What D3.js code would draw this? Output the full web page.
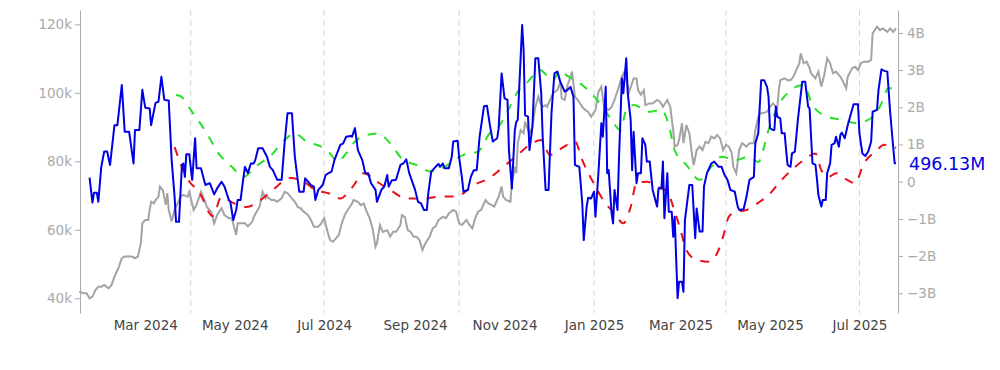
<!DOCTYPE html>
<html>
<body style="margin:0">
    <style>
        body {
            font: 13.5px "DejaVu Sans", Verdana, sans-serif;
            background: #fff;
        }
    </style>
    <div class="container"></div>

    <script src="https://d3js.org/d3.v7.min.js"></script>

    <script>

// BTC price (USD), grey line, left axis
var price = [
  ["2024-01-16",41900],["2024-01-19",41500],["2024-01-21",41500],["2024-01-23",40000],["2024-01-25",40500],
  ["2024-01-27",42400],["2024-01-29",43400],["2024-01-31",43400],["2024-02-02",43900],["2024-02-05",42900],
  ["2024-02-07",43900],["2024-02-09",46300],["2024-02-12",49200],["2024-02-14",51700],["2024-02-16",52200],
  ["2024-02-18",52200],["2024-02-21",52200],["2024-02-23",51700],["2024-02-25",52200],["2024-02-27",56100],
  ["2024-02-28",61900],["2024-03-01",62900],["2024-03-03",62900],["2024-03-04",65800],["2024-03-05",68200],
  ["2024-03-07",67700],["2024-03-08",68700],["2024-03-10",69700],["2024-03-11",72600],["2024-03-13",71600],
  ["2024-03-15",67300],["2024-03-16",70700],["2024-03-17",65800],["2024-03-19",62400],["2024-03-21",65800],
  ["2024-03-23",67700],["2024-03-25",69700],["2024-03-27",70200],["2024-03-30",69700],["2024-03-31",71100],
  ["2024-04-03",65800],["2024-04-05",67300],["2024-04-08",71100],["2024-04-10",69200],["2024-04-12",66700],
  ["2024-04-15",65300],["2024-04-17",61900],["2024-04-19",64300],["2024-04-22",66300],["2024-04-24",64300],
  ["2024-04-27",63400],["2024-04-29",63400],["2024-05-02",58500],["2024-05-03",61900],["2024-05-06",61900],
  ["2024-05-08",61900],["2024-05-10",61000],["2024-05-13",62400],["2024-05-14",63800],["2024-05-16",65300],
  ["2024-05-18",66800],["2024-05-20",71100],["2024-05-22",69200],["2024-05-23",69700],["2024-05-26",68700],
  ["2024-05-28",68700],["2024-05-30",68200],["2024-06-02",69200],["2024-06-04",71100],["2024-06-06",70700],
  ["2024-06-08",69700],["2024-06-11",68200],["2024-06-13",66700],["2024-06-15",66300],["2024-06-17",65300],
  ["2024-06-20",64300],["2024-06-22",62900],["2024-06-24",60900],["2024-06-27",60900],["2024-06-29",61900],
  ["2024-07-01",63400],["2024-07-03",59900],["2024-07-05",57000],["2024-07-07",56500],["2024-07-09",57500],
  ["2024-07-11",58500],["2024-07-13",61900],["2024-07-15",64300],["2024-07-17",65800],["2024-07-20",67700],
  ["2024-07-21",68700],["2024-07-24",68200],["2024-07-26",67200],["2024-07-28",67700],["2024-07-30",65300],
  ["2024-08-01",63400],["2024-08-03",60400],["2024-08-05",55100],["2024-08-06",56100],["2024-08-08",61400],
  ["2024-08-10",59400],["2024-08-13",59900],["2024-08-15",58000],["2024-08-17",59400],["2024-08-19",59400],
  ["2024-08-22",61400],["2024-08-23",64300],["2024-08-25",63800],["2024-08-27",59900],["2024-08-29",59400],
  ["2024-08-31",58000],["2024-09-02",58000],["2024-09-04",57000],["2024-09-06",54100],["2024-09-08",56100],
  ["2024-09-11",58000],["2024-09-13",60400],["2024-09-15",61000],["2024-09-17",62900],["2024-09-20",63800],
  ["2024-09-22",63400],["2024-09-24",64800],["2024-09-27",65800],["2024-09-29",65300],["2024-10-01",61900],
  ["2024-10-03",61400],["2024-10-06",62900],["2024-10-08",61400],["2024-10-10",60400],["2024-10-12",63400],
  ["2024-10-14",65300],["2024-10-16",65800],["2024-10-19",68700],["2024-10-21",67700],["2024-10-23",67300],
  ["2024-10-25",66800],["2024-10-28",69700],["2024-10-30",72600],["2024-10-31",69700],["2024-11-02",68700],
  ["2024-11-05",68200],["2024-11-06",73600],["2024-11-08",78400],["2024-11-09",76500],["2024-11-10",85300],
  ["2024-11-12",89100],["2024-11-14",88200],["2024-11-15",91600],["2024-11-17",89100],["2024-11-18",88000],
  ["2024-11-20",90100],["2024-11-22",95900],["2024-11-24",98900],["2024-11-25",97400],["2024-11-27",95900],
  ["2024-11-29",96400],["2024-11-30",95900],["2024-12-02",97900],["2024-12-04",99900],["2024-12-07",100800],
  ["2024-12-09",103200],["2024-12-10",98400],["2024-12-12",97900],["2024-12-14",102300],["2024-12-16",104700],
  ["2024-12-17",106200],["2024-12-19",98900],["2024-12-21",97900],["2024-12-24",95900],["2024-12-26",95000],
  ["2024-12-28",94500],["2024-12-30",93000],["2025-01-02",95000],["2025-01-04",100300],["2025-01-06",101800],
  ["2025-01-08",95500],["2025-01-11",95000],["2025-01-13",95900],["2025-01-15",97900],["2025-01-18",101800],
  ["2025-01-20",104700],["2025-01-21",105700],["2025-01-23",103700],["2025-01-25",100300],["2025-01-28",104200],
  ["2025-01-30",104200],["2025-01-31",100800],["2025-02-02",99400],["2025-02-04",100800],["2025-02-05",96400],
  ["2025-02-08",96900],["2025-02-10",96900],["2025-02-13",97900],["2025-02-15",97400],["2025-02-17",95900],
  ["2025-02-20",97900],["2025-02-22",95900],["2025-02-24",89100],["2025-02-25",84300],["2025-02-27",84800],
  ["2025-02-28",86200],["2025-03-02",91100],["2025-03-03",85300],["2025-03-05",90600],["2025-03-07",88200],
  ["2025-03-09",81400],["2025-03-10",78900],["2025-03-12",83300],["2025-03-14",84300],["2025-03-16",83300],
  ["2025-03-18",85700],["2025-03-20",85300],["2025-03-22",87200],["2025-03-24",86700],["2025-03-26",87700],
  ["2025-03-28",86700],["2025-03-30",83300],["2025-04-01",84800],["2025-04-03",84300],["2025-04-05",82300],
  ["2025-04-06",78400],["2025-04-08",76500],["2025-04-10",83300],["2025-04-12",85300],["2025-04-15",84300],
  ["2025-04-17",85300],["2025-04-20",85300],["2025-04-21",89100],["2025-04-23",93000],["2025-04-24",94000],
  ["2025-04-26",94000],["2025-04-29",94500],["2025-05-01",95900],["2025-05-03",96900],["2025-05-06",95500],
  ["2025-05-07",100800],["2025-05-08",103700],["2025-05-11",104200],["2025-05-13",103700],["2025-05-15",103700],
  ["2025-05-17",104700],["2025-05-19",106700],["2025-05-21",108600],["2025-05-22",111500],["2025-05-24",108600],
  ["2025-05-26",109100],["2025-05-28",107200],["2025-05-29",105700],["2025-06-01",104200],["2025-06-03",106200],
  ["2025-06-05",101800],["2025-06-07",105200],["2025-06-09",110100],["2025-06-11",108600],["2025-06-13",105700],
  ["2025-06-15",106200],["2025-06-18",104700],["2025-06-20",103200],["2025-06-22",101300],["2025-06-23",104700],
  ["2025-06-26",107200],["2025-06-28",107600],["2025-06-30",106700],["2025-07-02",108600],["2025-07-04",109100],
  ["2025-07-07",109100],["2025-07-09",109600],["2025-07-10",117400],["2025-07-13",119300],["2025-07-15",118300],
  ["2025-07-17",118800],["2025-07-20",117800],["2025-07-22",118800],["2025-07-24",117800],["2025-07-26",118800]
];

// net flow (billions USD), blue line, right axis
var flow = [
  ["2024-01-23",0.11],["2024-01-25",-0.56],["2024-01-26",-0.30],["2024-01-28",-0.30],["2024-01-29",-0.54],
  ["2024-01-31",0.40],["2024-02-02",0.81],["2024-02-04",0.81],["2024-02-06",0.45],["2024-02-09",1.52],
  ["2024-02-11",1.52],["2024-02-14",2.60],["2024-02-16",1.34],["2024-02-19",1.34],["2024-02-22",0.49],
  ["2024-02-23",1.39],["2024-02-26",1.39],["2024-02-28",2.47],["2024-03-01",1.99],["2024-03-04",1.97],
  ["2024-03-05",1.52],["2024-03-08",2.12],["2024-03-10",2.15],["2024-03-12",2.82],["2024-03-14",2.20],
  ["2024-03-17",2.18],["2024-03-19",0.58],["2024-03-21",-0.40],["2024-03-22",-1.08],["2024-03-24",-1.08],
  ["2024-03-26",0.45],["2024-03-27",0.49],["2024-03-28",0.13],["2024-03-29",0.74],["2024-03-31",0.74],
  ["2024-04-02",0.05],["2024-04-04",1.17],["2024-04-05",0.36],["2024-04-08",0.36],["2024-04-11",-0.09],
  ["2024-04-14",-0.04],["2024-04-17",-0.34],["2024-04-19",-0.18],["2024-04-22",0.00],["2024-04-24",-0.13],
  ["2024-04-27",-0.49],["2024-04-28",-0.54],["2024-04-30",-1.03],["2024-05-02",-0.76],["2024-05-03",-0.49],
  ["2024-05-05",-0.49],["2024-05-07",0.13],["2024-05-08",0.40],["2024-05-10",0.23],["2024-05-12",0.49],
  ["2024-05-14",0.49],["2024-05-15",0.58],["2024-05-17",0.90],["2024-05-20",0.90],["2024-05-23",0.67],
  ["2024-05-25",0.40],["2024-05-27",0.31],["2024-05-30",0.05],["2024-06-02",0.05],["2024-06-04",1.03],
  ["2024-06-06",1.84],["2024-06-09",1.84],["2024-06-11",0.67],["2024-06-14",-0.27],["2024-06-17",-0.27],
  ["2024-06-18",0.09],["2024-06-20",0.00],["2024-06-22",-0.09],["2024-06-24",-0.13],["2024-06-25",-0.49],
  ["2024-06-27",-0.22],["2024-06-30",-0.09],["2024-07-02",0.18],["2024-07-04",0.23],["2024-07-06",0.27],
  ["2024-07-08",0.58],["2024-07-12",0.99],["2024-07-14",1.03],["2024-07-16",1.21],["2024-07-19",1.23],
  ["2024-07-20",1.21],["2024-07-22",1.44],["2024-07-24",0.85],["2024-07-27",0.58],["2024-07-29",0.23],
  ["2024-07-31",0.23],["2024-08-02",-0.04],["2024-08-05",-0.22],["2024-08-06",-0.54],["2024-08-09",-0.22],
  ["2024-08-11",-0.13],["2024-08-13",0.18],["2024-08-14",-0.13],["2024-08-16",0.03],["2024-08-19",0.05],
  ["2024-08-22",0.45],["2024-08-24",0.49],["2024-08-26",0.60],["2024-08-28",0.23],["2024-09-01",-0.22],
  ["2024-09-03",-0.54],["2024-09-05",-0.58],["2024-09-07",-0.76],["2024-09-09",-0.76],["2024-09-10",-0.31],
  ["2024-09-12",0.27],["2024-09-15",0.40],["2024-09-17",0.48],["2024-09-18",0.40],["2024-09-20",0.49],
  ["2024-09-21",0.36],["2024-09-24",0.36],["2024-09-26",0.67],["2024-09-27",1.08],["2024-09-30",1.10],
  ["2024-10-01",0.67],["2024-10-03",0.09],["2024-10-04",-0.27],["2024-10-07",-0.22],["2024-10-09",0.13],
  ["2024-10-11",0.31],["2024-10-13",0.31],["2024-10-15",1.21],["2024-10-18",2.03],["2024-10-20",2.04],
  ["2024-10-22",1.52],["2024-10-24",1.08],["2024-10-27",1.17],["2024-10-28",1.44],["2024-10-30",2.91],
  ["2024-11-01",2.24],["2024-11-03",2.20],["2024-11-04",0.85],["2024-11-06",-0.18],["2024-11-08",1.39],
  ["2024-11-09",1.61],["2024-11-10",1.66],["2024-11-13",4.21],["2024-11-14",3.54],["2024-11-15",1.79],
  ["2024-11-17",1.75],["2024-11-18",0.85],["2024-11-20",1.48],["2024-11-22",3.32],["2024-11-24",3.32],
  ["2024-11-26",2.38],["2024-11-27",1.21],["2024-11-29",-0.22],["2024-12-01",-0.22],["2024-12-03",1.84],
  ["2024-12-05",2.91],["2024-12-07",2.96],["2024-12-09",2.69],["2024-12-12",2.42],["2024-12-14",2.47],
  ["2024-12-16",2.55],["2024-12-18",2.28],["2024-12-19",0.45],["2024-12-22",0.40],["2024-12-24",-0.58],
  ["2024-12-25",-1.57],["2024-12-27",-0.67],["2024-12-28",-0.43],["2024-12-30",-0.45],["2025-01-01",-0.27],
  ["2025-01-02",-0.94],["2025-01-04",0.23],["2025-01-06",1.57],["2025-01-07",1.21],["2025-01-09",2.55],
  ["2025-01-10",0.23],["2025-01-11",0.31],["2025-01-13",-0.85],["2025-01-14",-1.12],["2025-01-15",-0.22],
  ["2025-01-17",-0.76],["2025-01-18",0.58],["2025-01-20",2.78],["2025-01-21",2.38],["2025-01-23",3.32],
  ["2025-01-24",2.38],["2025-01-26",1.66],["2025-01-27",0.31],["2025-01-28",1.34],["2025-01-30",-0.04],
  ["2025-01-31",0.23],["2025-02-02",0.23],["2025-02-03",1.17],["2025-02-05",0.99],["2025-02-06",0.54],
  ["2025-02-08",0.54],["2025-02-10",-0.22],["2025-02-13",-0.67],["2025-02-14",-0.18],["2025-02-16",-0.18],
  ["2025-02-17",0.54],["2025-02-18",-0.98],["2025-02-20",0.23],["2025-02-21",-0.81],["2025-02-23",-0.81],
  ["2025-02-24",-1.48],["2025-02-25",-0.94],["2025-02-27",-3.13],["2025-02-28",-2.69],["2025-03-02",-2.69],
  ["2025-03-03",-2.96],["2025-03-04",-1.03],["2025-03-07",-0.09],["2025-03-09",-0.09],["2025-03-11",-1.52],
  ["2025-03-12",-0.72],["2025-03-14",-1.34],["2025-03-16",-1.34],["2025-03-17",-0.13],["2025-03-19",0.23],
  ["2025-03-22",0.49],["2025-03-24",0.54],["2025-03-27",0.40],["2025-03-29",0.40],["2025-03-31",0.18],
  ["2025-04-02",0.05],["2025-04-04",-0.22],["2025-04-07",-0.27],["2025-04-09",-0.67],["2025-04-10",-0.76],
  ["2025-04-13",-0.74],["2025-04-15",-0.40],["2025-04-17",0.05],["2025-04-20",0.13],["2025-04-21",1.03],
  ["2025-04-23",1.30],["2025-04-25",2.73],["2025-04-27",2.73],["2025-04-29",2.55],["2025-04-30",2.28],
  ["2025-05-01",1.44],["2025-05-03",1.39],["2025-05-04",1.39],["2025-05-05",2.02],["2025-05-06",1.75],
  ["2025-05-08",1.70],["2025-05-09",1.30],["2025-05-11",1.30],["2025-05-12",0.85],["2025-05-13",0.45],
  ["2025-05-15",0.40],["2025-05-16",0.76],["2025-05-18",0.81],["2025-05-20",1.66],["2025-05-23",2.69],
  ["2025-05-25",2.69],["2025-05-27",2.02],["2025-05-28",1.97],["2025-05-30",0.49],["2025-06-01",0.45],
  ["2025-06-02",0.09],["2025-06-03",-0.36],["2025-06-05",-0.67],["2025-06-06",-0.49],["2025-06-08",-0.49],
  ["2025-06-09",0.23],["2025-06-11",0.49],["2025-06-12",0.99],["2025-06-14",1.03],["2025-06-15",1.21],
  ["2025-06-17",0.94],["2025-06-18",1.26],["2025-06-19",1.32],["2025-06-21",1.17],["2025-06-23",1.52],
  ["2025-06-24",1.66],["2025-06-27",2.08],["2025-06-30",2.08],["2025-07-01",1.30],["2025-07-03",0.76],
  ["2025-07-05",0.69],["2025-07-07",0.81],["2025-07-09",1.08],["2025-07-10",1.88],["2025-07-13",1.93],
  ["2025-07-14",2.47],["2025-07-16",3.02],["2025-07-18",2.98],["2025-07-20",2.96],["2025-07-22",1.84],
  ["2025-07-25",0.49613],["2025-07-26",0.49613]
];

// fast average of flow (green dashed)
var flowFast = [
  ["2024-03-22",2.33],["2024-03-25",2.30],["2024-04-01",1.93],["2024-04-12",1.30],["2024-04-20",0.76],
  ["2024-04-29",0.40],["2024-05-07",0.13],["2024-05-15",0.40],["2024-05-26",0.72],["2024-06-04",1.12],
  ["2024-06-11",1.30],["2024-06-19",1.08],["2024-06-29",0.94],["2024-07-05",0.76],["2024-07-10",0.54],
  ["2024-07-16",0.76],["2024-07-22",1.08],["2024-07-27",1.21],["2024-08-07",1.30],["2024-08-15",1.03],
  ["2024-08-24",0.58],["2024-09-02",0.45],["2024-09-12",0.27],["2024-09-21",0.40],["2024-10-04",0.72],
  ["2024-10-14",0.81],["2024-10-22",1.31],["2024-10-28",1.48],["2024-11-04",1.97],["2024-11-10",2.42],
  ["2024-11-17",2.69],["2024-11-25",3.00],["2024-12-04",2.73],["2024-12-09",3.00],["2024-12-13",2.87],
  ["2024-12-24",2.60],["2024-12-30",2.38],["2025-01-06",2.06],["2025-01-13",1.66],["2025-01-19",1.39],
  ["2025-01-23",1.93],["2025-01-28",2.06],["2025-02-08",1.88],["2025-02-16",1.93],["2025-02-21",1.52],
  ["2025-02-25",0.85],["2025-03-05",0.45],["2025-03-14",0.05],["2025-03-22",0.40],["2025-03-29",0.67],
  ["2025-04-08",0.58],["2025-04-16",0.67],["2025-04-23",0.53],["2025-04-30",1.39],["2025-05-09",2.20],
  ["2025-05-24",2.60],["2025-05-30",2.06],["2025-06-09",1.75],["2025-06-20",1.66],["2025-06-28",1.58],
  ["2025-07-07",1.66],["2025-07-15",2.02],["2025-07-21",2.51],["2025-07-26",2.51]
];

// slow average of flow (red dashed)
var flowSlow = [
  ["2024-03-21",0.93],["2024-03-29",0.13],["2024-04-07",-0.30],["2024-04-16",-0.92],["2024-04-22",-0.41],
  ["2024-04-30",-0.57],["2024-05-09",-0.68],["2024-05-16",-0.57],["2024-05-27",-0.22],["2024-06-08",0.10],
  ["2024-06-17",0.00],["2024-06-25",-0.22],["2024-07-04",-0.31],["2024-07-12",-0.45],["2024-07-20",-0.16],
  ["2024-07-28",0.23],["2024-08-06",0.00],["2024-08-15",-0.22],["2024-08-26",-0.45],["2024-09-07",-0.45],
  ["2024-09-18",-0.40],["2024-09-29",-0.40],["2024-10-11",-0.09],["2024-10-22",0.11],["2024-10-30",0.36],
  ["2024-11-10",0.72],["2024-11-18",0.99],["2024-11-26",1.12],["2024-12-02",0.72],["2024-12-10",0.90],
  ["2024-12-19",1.08],["2024-12-24",0.58],["2025-01-02",-0.13],["2025-01-08",-0.54],["2025-01-15",-0.85],
  ["2025-01-21",-1.12],["2025-01-26",-0.68],["2025-01-30",-0.03],["2025-02-06",0.00],["2025-02-13",-0.13],
  ["2025-02-20",-0.27],["2025-02-24",-0.67],["2025-03-01",-1.30],["2025-03-05",-1.84],["2025-03-12",-2.10],
  ["2025-03-20",-2.15],["2025-03-26",-1.92],["2025-03-30",-1.48],["2025-04-03",-0.94],["2025-04-08",-0.81],
  ["2025-04-15",-0.76],["2025-04-24",-0.54],["2025-04-30",-0.36],["2025-05-09",0.05],["2025-05-17",0.36],
  ["2025-05-24",0.58],["2025-06-01",0.76],["2025-06-05",0.31],["2025-06-10",0.13],["2025-06-15",0.23],
  ["2025-06-21",0.09],["2025-06-28",-0.04],["2025-07-04",0.49],["2025-07-12",0.81],["2025-07-18",0.99],
  ["2025-07-26",0.91]
];

var priceTicks = [40000, 60000, 80000, 100000, 120000];
var flowTicks = [-3, -2, -1, 0, 1, 2, 3, 4];
var quarterLines = ["2024-04-01", "2024-07-01", "2024-10-01", "2025-01-01", "2025-04-01", "2025-07-01"];
var xStart = "2024-01-16T12:00", xEnd = "2025-07-27T07:00";

var width = 1000,
    height = 370,
    margin = {top: 10, right: 102, bottom: 57, left: 80};

var parse = d3.timeParse("%Y-%m-%d"),
    parseT = d3.timeParse("%Y-%m-%dT%H:%M");

var svg = d3.select(".container")
    .append("svg")
    .attr("width", width)
    .attr("height", height);

var x = d3.scaleTime()
    .domain([parseT(xStart), parseT(xEnd)])
    .range([margin.left, width - margin.right]);

var yPrice = d3.scaleLinear()
    .domain([35710, 124180])
    .range([height - margin.bottom, margin.top]);

var yFlow = d3.scaleLinear()
    .domain([-3.53, 4.616])
    .range([height - margin.bottom, margin.top]);

// quarter markers
svg.selectAll(".qline")
    .data(quarterLines)
  .enter().append("line")
    .attr("class", "qline")
    .attr("x1", function(d) { return x(parse(d)); })
    .attr("x2", function(d) { return x(parse(d)); })
    .attr("y1", margin.top)
    .attr("y2", height - margin.bottom)
    .style("stroke", "#d4d4d4")
    .style("stroke-width", 1)
    .style("stroke-dasharray", "6,4");

// axes
var xAxis = svg.append("g")
    .attr("transform", "translate(0," + (height - margin.bottom) + ")")
    .call(d3.axisBottom(x)
        .ticks(d3.timeMonth.every(2))
        .tickFormat(d3.timeFormat("%b %Y"))
        .tickSize(0)
        .tickPadding(7));
xAxis.select(".domain").remove();
xAxis.selectAll("text")
    .style("font", "13.5px 'DejaVu Sans', sans-serif")
    .style("fill", "#444");

var leftAxis = svg.append("g")
    .attr("transform", "translate(" + margin.left + ",0)")
    .call(d3.axisLeft(yPrice)
        .tickValues(priceTicks)
        .tickFormat(function(d) { return (d / 1000) + "k"; })
        .tickSize(5)
        .tickSizeOuter(0)
        .tickPadding(3));

var rightAxis = svg.append("g")
    .attr("transform", "translate(" + (width - margin.right) + ",0)")
    .call(d3.axisRight(yFlow)
        .tickValues(flowTicks)
        .tickFormat(function(d) { return d === 0 ? "0" : (d < 0 ? "\u2212" : "") + Math.abs(d) + "B"; })
        .tickSize(5)
        .tickSizeOuter(0)
        .tickPadding(4));

[leftAxis, rightAxis].forEach(function(g) {
  g.select(".domain").style("stroke", "#aaa");
  g.selectAll(".tick line").style("stroke", "#aaa");
  g.selectAll("text")
      .style("font", "13.5px 'DejaVu Sans', sans-serif")
      .style("fill", "#aaa");
});

// lines
var priceLine = d3.line()
    .x(function(d) { return x(parse(d[0])); })
    .y(function(d) { return yPrice(d[1]); });

var flowLine = d3.line()
    .x(function(d) { return x(parse(d[0])); })
    .y(function(d) { return yFlow(d[1]); });

var smoothLine = d3.line()
    .curve(d3.curveMonotoneX)
    .x(function(d) { return x(parse(d[0])); })
    .y(function(d) { return yFlow(d[1]); });

svg.append("path")
    .datum(price)
    .attr("d", priceLine)
    .style("fill", "none")
    .style("stroke", "#a3a3a3")
    .style("stroke-width", 2);

svg.append("path")
    .datum(flowSlow)
    .attr("d", smoothLine)
    .style("fill", "none")
    .style("stroke", "#e8101a")
    .style("stroke-width", 2)
    .style("stroke-dasharray", "9,9");

svg.append("path")
    .datum(flowFast)
    .attr("d", smoothLine)
    .style("fill", "none")
    .style("stroke", "#27e027")
    .style("stroke-width", 2)
    .style("stroke-dasharray", "9,9");

svg.append("path")
    .datum(flow)
    .attr("d", flowLine)
    .style("fill", "none")
    .style("stroke", "#0000e6")
    .style("stroke-width", 2)
    .style("stroke-linejoin", "round");

// last value label
var last = flow[flow.length - 1];
svg.append("text")
    .attr("x", width - margin.right + 11)
    .attr("y", yFlow(last[1]) + 7)
    .style("font", "17.5px 'DejaVu Sans', sans-serif")
    .style("fill", "#0000e6")
    .text((last[1] * 1000).toFixed(2) + "M");

    </script>
</body>
</html>
